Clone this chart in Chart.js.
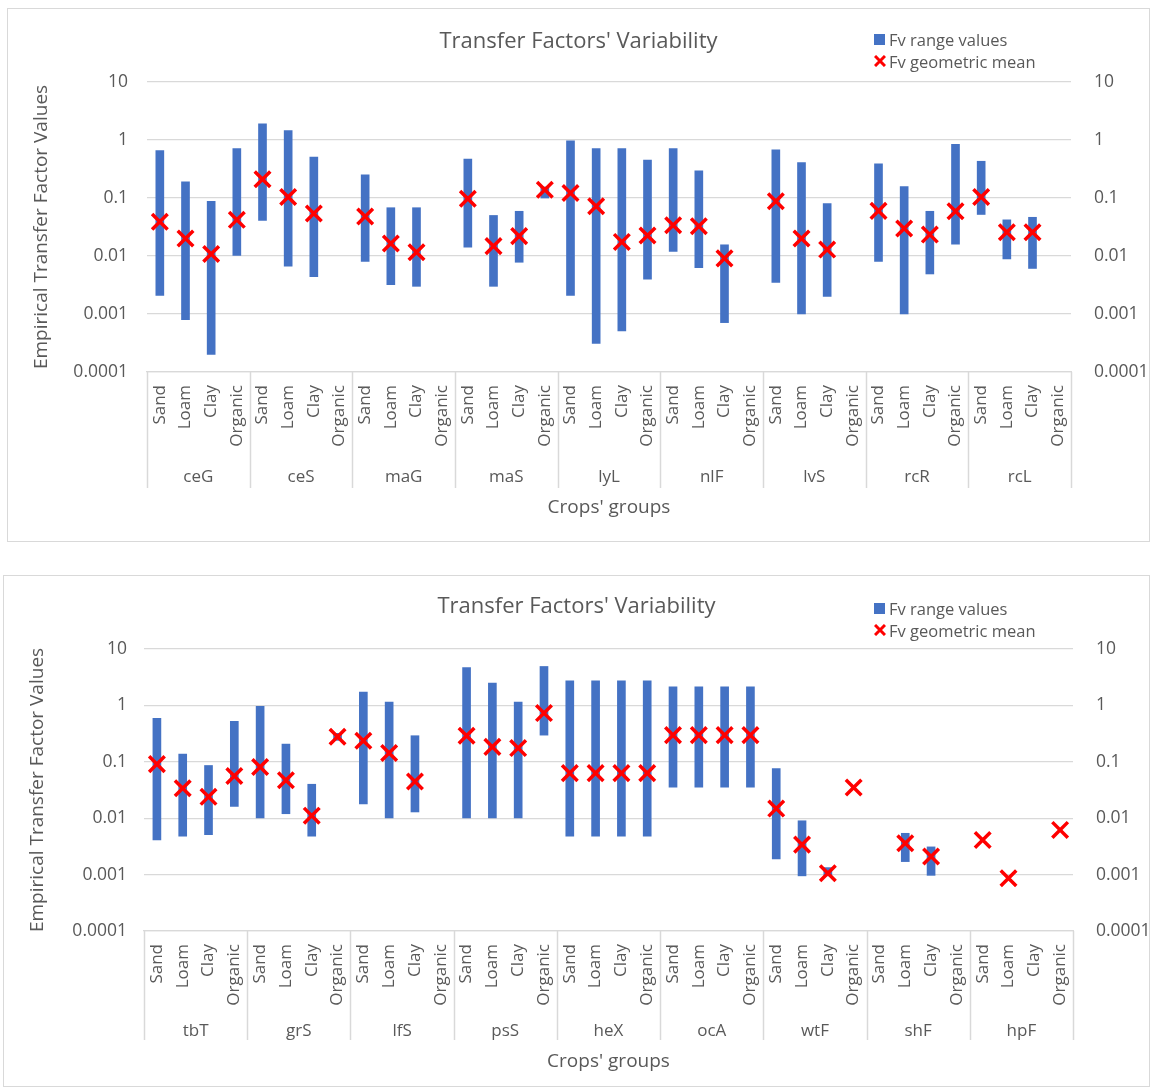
<!DOCTYPE html>
<html>
<head>
<meta charset="utf-8">
<title>Transfer Factors' Variability</title>
<script src="https://cdn.jsdelivr.net/npm/chart.js@4.4.1/dist/chart.umd.min.js"></script>
<style>
  body { margin: 0; background: #fff; font-family: 'Open Sans', sans-serif; }
  .panel { position: absolute; border: 1px solid #d9d9d9; background: #fff; }
  .panel canvas { display: block; }
  .legend { position: absolute; font-size: 16.5px; color: #595959; }
  .legend .row { display: flex; align-items: center; height: 21.5px; white-space: nowrap; }
  .legend .sq { width: 11px; height: 11px; background: #4472c4; margin-right: 4px; }
  .legend svg { margin-right: 3px; }
</style>
</head>
<body>

<div class="panel" style="left:7px; top:8px;">
  <canvas id="chartTop" width="1141" height="532"></canvas>
  <div class="legend" style="left:866px; top:20px;">
    <div class="row"><span class="sq"></span>Fv range values</div>
    <div class="row"><svg width="12" height="12" viewBox="0 0 12 12"><path d="M1 1 L11 11 M11 1 L1 11" stroke="#ff0000" stroke-width="3"/></svg>Fv geometric mean</div>
  </div>
</div>

<div class="panel" style="left:3px; top:575px;">
  <canvas id="chartBottom" width="1145" height="510"></canvas>
  <div class="legend" style="left:870px; top:22px;">
    <div class="row"><span class="sq"></span>Fv range values</div>
    <div class="row"><svg width="12" height="12" viewBox="0 0 12 12"><path d="M1 1 L11 11 M11 1 L1 11" stroke="#ff0000" stroke-width="3"/></svg>Fv geometric mean</div>
  </div>
</div>

<script>
const soils = ['Sand', 'Loam', 'Clay', 'Organic'];
const groupsTop = ['ceG', 'ceS', 'maG', 'maS', 'lyL', 'nlF', 'lvS', 'rcR', 'rcL'];
const groupsBottom = ['tbT', 'grS', 'lfS', 'psS', 'heX', 'ocA', 'wtF', 'shF', 'hpF'];
const yTicks = [0.0001, 0.001, 0.01, 0.1, 1, 10];

// top panel, 4 soils per group (Sand, Loam, Clay, Organic)
const lowTop = [
  0.0021, 0.0008, 0.0002, 0.0102,
  0.041, 0.0067, 0.0044, null,
  0.0081, 0.0032, 0.003, null,
  0.0142, 0.003, 0.0078, 0.1,
  0.0021, 0.00031, 0.00051, 0.004,
  0.012, 0.0063, 0.00071, null,
  0.0035, 0.001, 0.002, null,
  0.0081, 0.001, 0.0049, 0.016,
  0.052, 0.0089, 0.0061, null
];
const highTop = [
  0.66, 0.19, 0.088, 0.71,
  1.9, 1.46, 0.51, null,
  0.25, 0.068, 0.068, null,
  0.47, 0.05, 0.059, 0.155,
  0.97, 0.71, 0.71, 0.45,
  0.71, 0.295, 0.0156, null,
  0.68, 0.41, 0.08, null,
  0.39, 0.158, 0.059, 0.84,
  0.43, 0.042, 0.0465, null
];
const meanTop = [
  0.039, 0.02, 0.0108, 0.042,
  0.21, 0.104, 0.054, null,
  0.048, 0.0164, 0.0116, null,
  0.097, 0.0148, 0.022, 0.139,
  0.122, 0.072, 0.0175, 0.0225,
  0.034, 0.0326, 0.0091, null,
  0.088, 0.02, 0.0129, null,
  0.06, 0.0297, 0.0234, 0.059,
  0.104, 0.0257, 0.0257, null
];

// bottom panel
const lowBottom = [
  0.0041, 0.0048, 0.0051, 0.0161,
  0.0101, 0.012, 0.0048, 0.24,
  0.018, 0.0101, 0.0129, null,
  0.0101, 0.0101, 0.0101, 0.297,
  0.0048, 0.0048, 0.0048, 0.0048,
  0.0355, 0.0355, 0.0355, 0.0355,
  0.0019, 0.00095, 0.00095, null,
  null, 0.0017, 0.00097, null,
  null, null, null, null
];
const highBottom = [
  0.59, 0.137, 0.086, 0.52,
  0.96, 0.206, 0.04, 0.32,
  1.72, 1.15, 0.29, null,
  4.7, 2.5, 1.15, 4.9,
  2.74, 2.74, 2.74, 2.74,
  2.14, 2.14, 2.14, 2.14,
  0.076, 0.009, 0.00133, null,
  null, 0.0054, 0.0031, null,
  null, null, null, null
];
const meanBottom = [
  0.091, 0.034, 0.0239, 0.056,
  0.081, 0.047, 0.0111, 0.278,
  0.236, 0.143, 0.0448, null,
  0.29, 0.184, 0.175, 0.73,
  0.063, 0.063, 0.063, 0.063,
  0.297, 0.297, 0.297, 0.297,
  0.0148, 0.0034, 0.00106, 0.035,
  null, 0.0036, 0.0021, null,
  0.0041, 0.00086, null, 0.0062
];

Chart.defaults.font.family = "'Open Sans', sans-serif";
Chart.defaults.color = '#595959';

// vertical separators between the crop groups, below the plot
const groupLines = {
  id: 'groupLines',
  afterDraw(chart, args, opts) {
    const x = chart.scales.x, x2 = chart.scales.x2, ctx = chart.ctx;
    const n = x2.getLabels().length;
    ctx.save();
    ctx.strokeStyle = '#d9d9d9';
    ctx.lineWidth = 1.5;
    for (let g = 0; g <= n; g++) {
      const px = Math.round(x.left + g * x.width / n) + 0.5;
      ctx.beginPath();
      ctx.moveTo(px, chart.chartArea.bottom);
      ctx.lineTo(px, x2.top + opts.depth);
      ctx.stroke();
    }
    ctx.restore();
  }
};

function makeChart(canvasId, groups, low, high, mean, lay) {
  const labels = groups.flatMap(() => soils);
  const ranges = low.map((v, i) => v === null ? null : [v, high[i]]);
  const tickFont = { size: 17.5 };

  return new Chart(document.getElementById(canvasId), {
    type: 'bar',
    data: {
      labels: labels,
      datasets: [
        {
          type: 'line',
          label: 'Fv geometric mean',
          data: mean,
          showLine: false,
          pointStyle: 'crossRot',
          pointRadius: 11,
          pointHoverRadius: 11,
          pointBorderWidth: 3.5,
          borderColor: '#ff0000',
          backgroundColor: '#ff0000',
          order: 0,
          xAxisID: 'x',
          yAxisID: 'y'
        },
        {
          label: 'Fv range values',
          data: ranges,
          backgroundColor: '#4472c4',
          barThickness: 8,
          order: 1,
          xAxisID: 'x',
          yAxisID: 'y'
        }
      ]
    },
    options: {
      responsive: false,
      animation: false,
      layout: { padding: { left: 0, right: 0, top: 0, bottom: 0 } },
      plugins: {
        legend: { display: false },
        tooltip: { enabled: false },
        title: {
          display: true,
          text: "Transfer Factors' Variability",
          color: '#595959',
          font: { size: 22, weight: 'normal' },
          padding: { top: lay.titleTop, bottom: lay.titleBottom, left: 8 }
        },
        groupLines: { depth: lay.sepDepth }
      },
      scales: {
        x: {
          type: 'category',
          position: 'bottom',
          offset: true,
          grid: { display: false },
          border: { display: true, color: '#d9d9d9', width: 1.3 },
          ticks: { minRotation: 90, maxRotation: 90, autoSkip: false, padding: 5, color: '#595959', font: { size: 17 } },
          afterFit: s => { s.height = lay.xHeight; }
        },
        x2: {
          type: 'category',
          position: 'bottom',
          labels: groups,
          offset: true,
          grid: { display: false },
          border: { display: false },
          ticks: { maxRotation: 0, autoSkip: false, padding: -1, color: '#595959', font: { size: 17 } },
          title: {
            display: true,
            text: "Crops' groups",
            color: '#595959',
            font: { size: 19 },
            padding: { top: 0, bottom: lay.xTitlePad }
          },
          afterFit: s => { s.height = lay.x2Height; }
        },
        y: {
          type: 'logarithmic',
          position: 'left',
          min: 0.0001,
          max: 10,
          afterBuildTicks: s => { s.ticks = yTicks.map(v => ({ value: v })); },
          afterFit: s => { s.width = lay.yWidth; },
          grid: { color: '#d9d9d9', lineWidth: 1.3, drawTicks: false },
          border: { display: false },
          ticks: { color: '#595959', font: tickFont, padding: lay.tickPad, callback: v => String(v) },
          title: {
            display: true,
            text: 'Empirical Transfer Factor Values',
            color: '#595959',
            font: { size: 19 },
            padding: { top: 22.5, bottom: 0 }
          }
        },
        y2: {
          type: 'logarithmic',
          position: 'right',
          min: 0.0001,
          max: 10,
          afterBuildTicks: s => { s.ticks = yTicks.map(v => ({ value: v })); },
          afterFit: s => { s.width = lay.y2Width; },
          grid: { display: false },
          border: { display: false },
          ticks: { color: '#595959', font: tickFont, padding: 15, callback: v => String(v) }
        }
      }
    },
    plugins: [groupLines]
  });
}

makeChart('chartTop', groupsTop, lowTop, highTop, meanTop, {
  titleTop: 19.8, titleBottom: 26.8,
  yWidth: 139, y2Width: 78, tickPad: 19,
  xHeight: 88, x2Height: 81, xTitlePad: 21.6, sepDepth: 28
});

makeChart('chartBottom', groupsBottom, lowBottom, highBottom, meanBottom, {
  titleTop: 17.8, titleBottom: 28.8,
  yWidth: 140, y2Width: 76, tickPad: 17,
  xHeight: 83, x2Height: 72, xTitlePad: 12.6, sepDepth: 26
});
</script>
</body>
</html>
